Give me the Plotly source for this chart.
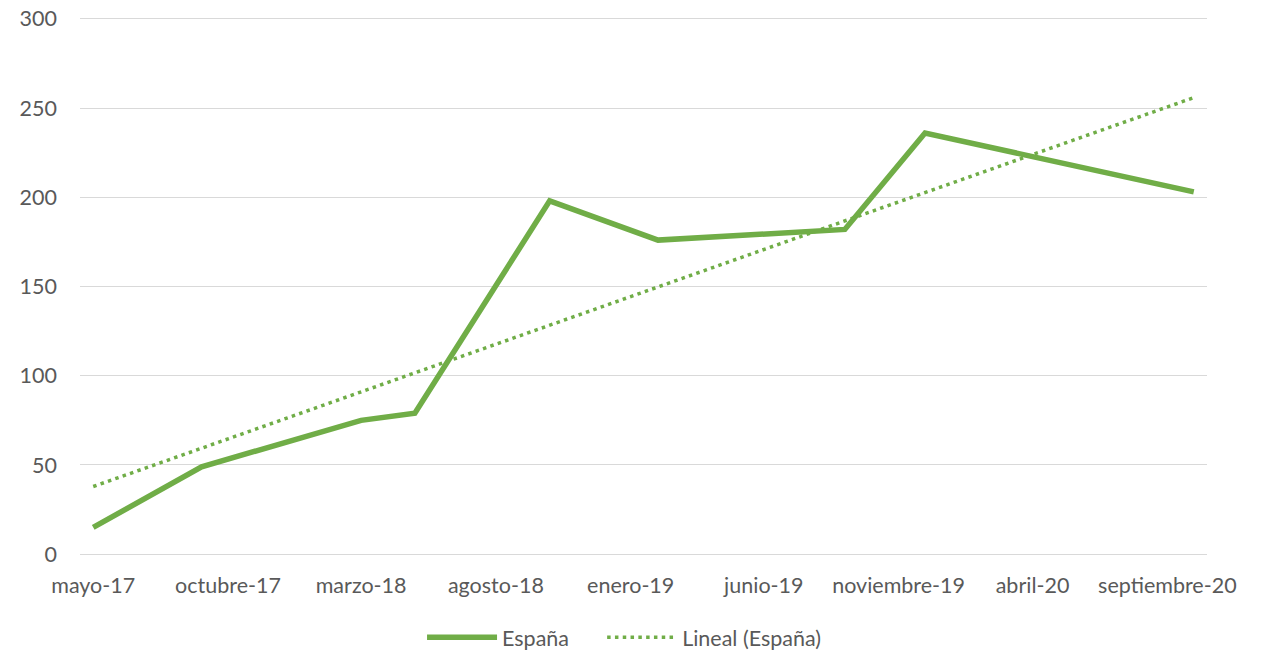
import numpy as np
import plotly.graph_objects as go

# Data
fechas = ["2017-05-01", "2017-09-01", "2018-03-01", "2018-05-01", "2018-10-01",
          "2019-02-01", "2019-09-01", "2019-12-01", "2020-10-01"]
espana = [15, 49, 75, 79, 198, 176, 182, 236, 203]

tick_fechas = ["2017-05-01", "2017-10-01", "2018-03-01", "2018-08-01", "2019-01-01",
               "2019-06-01", "2019-11-01", "2020-04-01", "2020-09-01"]
tick_textos = ["mayo-17", "octubre-17", "marzo-18", "agosto-18", "enero-19",
               "junio-19", "noviembre-19", "abril-20", "septiembre-20"]
y_ticks = [0, 50, 100, 150, 200, 250, 300]

# Linear trendline (Excel "Lineal") fitted on month index
def month_index(s):
    y, m, _ = map(int, s.split("-"))
    return y * 12 + m

mi = np.array([month_index(f) for f in fechas], dtype=float)
slope, intercept = np.polyfit(mi, np.array(espana, dtype=float), 1)
trend_x = [fechas[0], fechas[-1]]
trend_y = [slope * mi[0] + intercept, slope * mi[-1] + intercept]

verde = "#70ad47"
gris = "#595959"
fuente = "Lato"
fs = 21.5

fig = go.Figure()
fig.add_trace(go.Scatter(
    x=fechas, y=espana, mode="lines", name="España", legend="legend",
    line=dict(color=verde, width=5.5, shape="linear"),
))
fig.add_trace(go.Scatter(
    x=trend_x, y=trend_y, mode="lines", name="Lineal (España)", legend="legend2",
    line=dict(color=verde, width=3.5, dash="3.5px,4.3px"),
))

leg_common = dict(orientation="h", xanchor="left", yanchor="middle", y=-0.1508,
                  itemwidth=70, font=dict(size=fs, color=gris, family=fuente),
                  bgcolor="rgba(0,0,0,0)")

fig.update_layout(
    width=1255, height=642,
    margin=dict(l=72, r=56, t=9.2, b=94.2, autoexpand=False),
    paper_bgcolor="white", plot_bgcolor="white",
    font=dict(family=fuente, size=fs, color=gris),
    showlegend=True,
    legend=dict(x=0.3035, **leg_common),
    legend2=dict(x=0.4633, **leg_common),
    xaxis=dict(
        type="date", range=["2017-04-16", "2020-10-16"],
        tickmode="array", tickvals=tick_fechas, ticktext=tick_textos,
        showgrid=False, showline=False, zeroline=False, automargin=False,
        ticks="", ticklabelstandoff=14, ticklabeloverflow="allow",
        tickfont=dict(family=fuente, size=fs, color=gris),
    ),
    yaxis=dict(
        range=[-1, 301], tickmode="array", tickvals=y_ticks,
        showgrid=True, gridcolor="#d9d9d9", gridwidth=1.3, automargin=False,
        zeroline=False, showline=False, ticks="", ticklabelstandoff=22,
        ticklabeloverflow="allow",
        tickfont=dict(family=fuente, size=fs, color=gris),
    ),
)

fig.write_html("out.html")
